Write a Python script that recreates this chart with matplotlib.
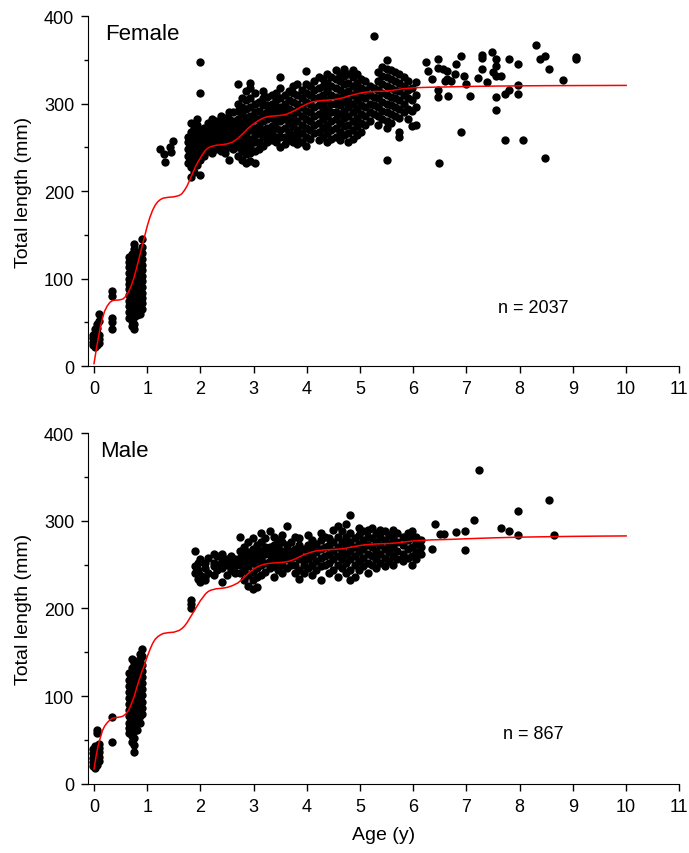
import numpy as np
import matplotlib
matplotlib.use("Agg")
import matplotlib.pyplot as plt
from matplotlib.ticker import MultipleLocator

plt.rcParams['font.family'] = ['Liberation Sans', 'DejaVu Sans']

# --- Female: observed lengths, grouped by age column ---
f_col_age = [-0.02, 0.02, 0.06, 0.09, 0.33,
             0.66, 0.71, 0.76, 0.81, 0.86, 0.91,
             1.76, 1.82, 1.88, 1.94, 2.00, 2.06, 2.14, 2.22, 2.30, 2.38, 2.46, 2.54, 2.62,
             2.70, 2.78, 2.86, 2.94, 3.02, 3.10, 3.18, 3.26, 3.34, 3.42, 3.50, 3.58, 3.66,
             3.74, 3.82, 3.90, 3.98, 4.06, 4.14, 4.22, 4.30, 4.38, 4.46, 4.54, 4.62, 4.70,
             4.78, 4.86, 4.94, 5.02, 5.10, 5.18, 5.26, 5.34, 5.42, 5.50, 5.58, 5.66, 5.74,
             5.82, 5.90, 5.98, 6.05]
f_col_len = [
    [24, 28, 32, 36], [22, 26, 30, 34, 38, 42], [24, 28, 33, 38, 44, 48], [26, 31, 36, 52, 60],
    [42, 50, 55, 80, 86],
    [55, 62, 69, 75, 81, 88, 94, 100, 107, 113, 119, 125],
    [46, 52, 58, 65, 71, 77, 84, 90, 96, 103, 109, 115, 121, 128],
    [42, 48, 56, 64, 70, 76, 83, 89, 95, 102, 108, 114, 121, 127, 134, 140],
    [58, 64, 71, 77, 83, 90, 96, 102, 109, 115, 121, 128],
    [60, 67, 73, 79, 86, 92, 98, 105, 111, 117, 124, 131],
    [65, 72, 78, 84, 91, 97, 103, 110, 116, 122, 129, 136, 145],
    [232, 240, 248, 256, 262],
    [216, 228, 236, 244, 252, 260, 268, 278],
    [222, 238, 246, 254, 262, 272],
    [230, 240, 250, 258, 266, 276, 282],
    [218, 236, 244, 252, 262, 270, 312, 348],
    [240, 248, 256, 264, 272],
    [246, 254, 262, 270, 278],
    [244, 252, 258, 266, 274, 282],
    [248, 256, 264, 272, 280],
    [246, 254, 262, 270, 278, 286],
    [244, 252, 260, 268, 276, 284],
    [236, 250, 258, 266, 274, 282, 290],
    [248, 256, 264, 272, 280, 290],
    [240, 250, 258, 266, 274, 282, 292, 300, 322],
    [236, 246, 254, 262, 270, 278, 288, 296, 306],
    [232, 242, 250, 258, 266, 276, 284, 294, 304, 314],
    [234, 244, 252, 260, 270, 278, 286, 296, 306, 318, 324],
    [232, 246, 256, 264, 272, 282, 290, 300, 312],
    [248, 256, 266, 274, 282, 292, 302],
    [252, 262, 270, 280, 288, 298, 306, 314],
    [256, 264, 272, 282, 290, 298, 308],
    [258, 266, 274, 284, 292, 300, 310],
    [256, 262, 272, 280, 288, 296, 304, 312],
    [250, 262, 270, 280, 288, 296, 306, 318, 330],
    [254, 262, 272, 282, 292, 300, 310],
    [258, 268, 278, 286, 294, 304, 314],
    [256, 264, 274, 284, 292, 302, 312, 320],
    [254, 262, 270, 280, 290, 300, 310, 322],
    [256, 266, 276, 286, 296, 306, 316],
    [252, 262, 272, 282, 292, 302, 312, 322, 337],
    [260, 270, 280, 290, 300, 310, 320],
    [266, 276, 286, 296, 306, 316, 326],
    [258, 268, 278, 288, 298, 308, 318, 330],
    [262, 272, 282, 292, 300, 310, 320, 328],
    [256, 266, 276, 286, 294, 304, 314, 324, 334],
    [260, 270, 280, 290, 300, 310, 320, 330],
    [262, 272, 282, 290, 300, 308, 318, 328, 338],
    [258, 268, 278, 288, 298, 306, 316, 326, 334],
    [264, 274, 284, 292, 302, 312, 322, 332, 340],
    [256, 266, 276, 286, 296, 304, 314, 324, 334],
    [260, 270, 280, 290, 300, 310, 320, 330, 338],
    [264, 274, 284, 294, 304, 314, 324, 334],
    [268, 278, 288, 298, 308, 318, 328],
    [276, 286, 296, 306, 316, 326],
    [280, 290, 300, 310, 320],
    [288, 298, 308, 318, 377],
    [276, 286, 296, 306, 316, 326, 336],
    [282, 292, 302, 312, 322, 332, 342],
    [236, 272, 280, 290, 300, 310, 320, 330, 340, 350],
    [278, 288, 298, 308, 318, 328, 338],
    [286, 296, 306, 316, 326, 336],
    [262, 268, 284, 294, 304, 314, 324, 334],
    [290, 300, 310, 320, 330],
    [282, 294, 306, 316, 326],
    [274, 292, 304, 318],
    [276, 296, 310, 325],
]
# sparse female points
f_pt_age = [1.24, 1.31, 1.33, 1.43, 1.48, 1.44,
            6.23, 6.27, 6.36, 6.47, 6.47, 6.47, 6.47, 6.49, 6.55, 6.60, 6.64, 6.64, 6.66,
            6.70, 6.78, 6.80, 6.89, 6.89, 6.96, 7.00, 7.06, 7.22, 7.30, 7.30, 7.30, 7.39,
            7.48, 7.50, 7.56, 7.56, 7.56, 7.56, 7.56, 7.64, 7.73, 7.73, 7.80, 7.80, 7.97,
            7.97, 7.97, 8.06, 8.31, 8.39, 8.47, 8.47, 8.55, 8.81, 9.05, 9.05]
f_pt_len = [248, 243, 233, 251, 257, 245,
            348, 337, 328, 351, 341, 316, 307, 232, 340, 326, 337, 328, 309,
            326, 334, 345, 354, 268, 332, 322, 309, 329, 356, 352, 339, 325,
            359, 336, 351, 343, 332, 307, 293, 331, 259, 311, 315, 351, 345,
            321, 311, 258, 367, 351, 354, 238, 340, 327, 353, 351]

f_curve_age = [0.0, 0.04, 0.08, 0.12, 0.16, 0.2, 0.25, 0.3, 0.35, 0.4, 0.45, 0.5, 0.55, 0.6,
               0.65, 0.7, 0.75, 0.8, 0.85, 0.9, 0.95, 1.0, 1.05, 1.1, 1.15, 1.2, 1.25, 1.3,
               1.4, 1.5, 1.6, 1.65, 1.7, 1.75, 1.8, 1.85, 1.9, 1.95, 2.0, 2.05, 2.1, 2.15,
               2.2, 2.3, 2.4, 2.5, 2.6, 2.65, 2.7, 2.75, 2.8, 2.9, 3.0, 3.1, 3.2, 3.3, 3.4,
               3.5, 3.6, 3.7, 3.8, 3.9, 4.0, 4.1, 4.2, 4.3, 4.4, 4.5, 4.6, 4.7, 4.8, 4.9,
               5.0, 5.1, 5.2, 5.3, 5.4, 5.5, 5.6, 5.7, 5.8, 5.9, 6.0, 6.2, 6.4, 6.6, 6.8,
               7.0, 7.5, 8.0, 8.5, 9.0, 9.5, 10.0]
f_curve_len = [3, 18, 32, 45, 55, 63, 69, 73, 75, 75.5, 75.5, 76, 77, 80,
               85, 92, 101, 112, 124, 136, 148, 160, 170, 178, 184, 188, 190.5, 192,
               193, 193.5, 195, 197, 201, 206, 213, 220, 227, 233, 238, 243, 247, 249.5,
               251, 252.5, 253, 254, 256, 258, 260, 263, 266, 272, 277, 281, 284, 285.5, 286,
               286.5, 287.5, 290, 293, 296.5, 299.5, 302, 303, 303.5, 304, 304.5, 305.5, 307, 309, 310.5,
               312, 313, 313.5, 314, 314, 314.5, 315, 316, 317, 317.5, 318, 318.5, 318.8, 319, 319.3,
               319.6, 320, 320.3, 320.5, 320.6, 320.7, 320.8]

# --- Male ---
m_col_age = [-0.02, 0.02, 0.06, 0.09, 0.33,
             0.66, 0.71, 0.76, 0.81, 0.86, 0.91, 1.82,
             1.90, 1.95, 2.00, 2.08, 2.15, 2.25, 2.32, 2.40, 2.50, 2.58, 2.65,
             2.75, 2.82, 2.90, 2.98, 3.06, 3.14, 3.22, 3.30, 3.38, 3.46, 3.54, 3.62,
             3.70, 3.78, 3.86, 3.94, 4.02, 4.10, 4.18, 4.26, 4.34, 4.42, 4.50, 4.58,
             4.66, 4.74, 4.82, 4.90, 4.98, 5.06, 5.14, 5.22, 5.30, 5.38, 5.46, 5.54,
             5.62, 5.70, 5.80, 5.90, 5.98, 6.06, 6.15]
m_col_len = [
    [20, 25, 30, 35, 40], [18, 23, 28, 33, 38, 43], [22, 27, 32, 37, 42, 58, 62], [26, 31, 36, 41, 46],
    [48, 76],
    [58, 64, 70, 77, 84, 91, 98, 105, 112, 119, 126],
    [48, 55, 62, 69, 76, 83, 90, 97, 104, 111, 118, 125, 132, 142],
    [36, 44, 52, 60, 67, 74, 81, 88, 95, 102, 109, 116, 123, 130, 138],
    [62, 69, 76, 83, 90, 97, 104, 111, 118, 125, 132, 140],
    [70, 77, 84, 91, 98, 105, 112, 119, 126, 133, 141, 148],
    [80, 87, 94, 101, 108, 115, 122, 129, 136, 146, 154],
    [200, 205, 210],
    [265, 248, 240], [252, 234, 244], [230, 238, 256], [236, 246, 252, 232],
    [240, 258], [262, 248, 238, 252], [260, 244, 250], [246, 254, 230, 262],
    [238, 250, 256], [244, 252, 260], [248, 256, 240],
    [240, 250, 258, 266, 282],
    [232, 244, 254, 262, 270],
    [226, 238, 248, 256, 264, 276],
    [222, 232, 242, 252, 260, 268, 280],
    [224, 236, 246, 256, 264, 272],
    [238, 250, 258, 266, 276, 286],
    [242, 252, 262, 270, 280],
    [246, 254, 262, 270, 288],
    [236, 248, 256, 264, 272, 282],
    [244, 254, 262, 270, 278],
    [240, 250, 258, 266, 276, 284],
    [246, 256, 264, 272, 294],
    [250, 258, 266, 276],
    [240, 250, 260, 268, 282],
    [234, 244, 256, 264, 272, 280],
    [240, 250, 258, 268],
    [246, 256, 264, 272, 284],
    [238, 250, 260, 270, 278],
    [244, 254, 264, 274],
    [232, 248, 258, 268, 278, 286],
    [250, 260, 270, 282],
    [240, 252, 262, 272, 280],
    [244, 256, 266, 276, 290],
    [236, 250, 260, 270, 282, 294],
    [246, 256, 266, 276, 288],
    [240, 252, 262, 272, 282, 296],
    [232, 244, 256, 266, 276, 286, 306],
    [236, 250, 260, 270, 280],
    [244, 254, 264, 274, 284, 292],
    [248, 258, 268, 278, 288],
    [240, 252, 262, 272, 282, 290],
    [250, 260, 270, 280, 292],
    [246, 256, 266, 276, 286],
    [252, 262, 272, 282, 290],
    [248, 258, 268, 278, 288],
    [254, 264, 274, 284],
    [250, 260, 270, 280, 290],
    [256, 266, 276, 286],
    [254, 262, 272, 282],
    [258, 268, 278, 286],
    [250, 260, 270, 280, 288],
    [256, 264, 274, 282],
    [262, 270, 278],
]
m_pt_age = [6.36, 6.41, 6.50, 6.58, 6.81, 6.98, 6.98, 7.14, 7.23, 7.64, 7.80, 7.97, 7.97, 8.55, 8.64]
m_pt_len = [268, 296, 285, 285, 287, 288, 267, 301, 358, 292, 288, 311, 284, 324, 284]

m_curve_age = f_curve_age
m_curve_len = [17, 32, 44, 53, 61, 66, 70, 73, 75, 75.5, 76, 76.5, 77.5, 80,
               84, 91, 99, 109, 119, 128, 136, 145, 153, 160, 165, 168, 170, 171.5,
               172.5, 173, 175, 177, 180, 184, 189, 194, 199, 204, 209, 213, 217, 219.5,
               221, 222.5, 223, 224, 226, 227.5, 229, 231.5, 234, 240, 245, 248.5, 250.5, 251.5, 252,
               252.5, 253, 254.5, 257, 260, 262.5, 264.5, 266, 266.5, 267, 267.3, 267.7, 268.3, 269.5, 270.7,
               271.8, 272.6, 273.2, 273.5, 273.8, 274, 274.3, 274.8, 275.5, 276.3, 277, 277.8, 278.3, 278.6, 279,
               279.5, 280.5, 281.3, 281.8, 282.2, 282.5, 282.7]


def expand(col_age, col_len, pt_age, pt_len):
    a = np.concatenate([np.repeat(ag, len(ls)) for ag, ls in zip(col_age, col_len)] + [pt_age])
    l = np.concatenate([np.array(ls, float) for ls in col_len] + [pt_len])
    return a, l


fig = plt.figure(figsize=(6.89, 8.54), dpi=100)
ax1 = fig.add_axes([0.1277, 0.570, 0.8583, 0.410])
ax2 = fig.add_axes([0.1277, 0.0808, 0.8583, 0.411])

panels = [
    (ax1, expand(f_col_age, f_col_len, f_pt_age, f_pt_len), f_curve_age, f_curve_len, 'Female', 'n = 2037', 67),
    (ax2, expand(m_col_age, m_col_len, m_pt_age, m_pt_len), m_curve_age, m_curve_len, 'Male', 'n = 867', 57),
]

for ax, (age, length), cx, cy, title, ntext, ny in panels:
    ax.scatter(age, length, s=36, c='black', linewidths=0, zorder=2)
    ax.plot(cx, cy, color='red', lw=1.1, zorder=3)
    ax.set_xlim(-0.113, 11)
    ax.set_ylim(0, 400)
    ax.xaxis.set_major_locator(MultipleLocator(1))
    ax.yaxis.set_major_locator(MultipleLocator(100))
    ax.yaxis.set_minor_locator(MultipleLocator(50))
    ax.spines['top'].set_visible(False)
    ax.spines['right'].set_visible(False)
    ax.tick_params(which='major', direction='out', length=5, width=1, labelsize=13, pad=5)
    ax.tick_params(which='minor', direction='out', length=3, width=1)
    ax.set_ylabel('Total length (mm)', fontsize=14)
    ax.yaxis.set_label_coords(-0.095, 0.5)
    ax.text(0.2 if title == 'Female' else 0.11, 380, title, fontsize=16, va='center', ha='left')
    ax.text(8.25, ny, ntext, fontsize=13, ha='center', va='center')

ax2.set_xlabel('Age (y)', fontsize=14, labelpad=8)

fig.savefig('out.png', dpi=100)
